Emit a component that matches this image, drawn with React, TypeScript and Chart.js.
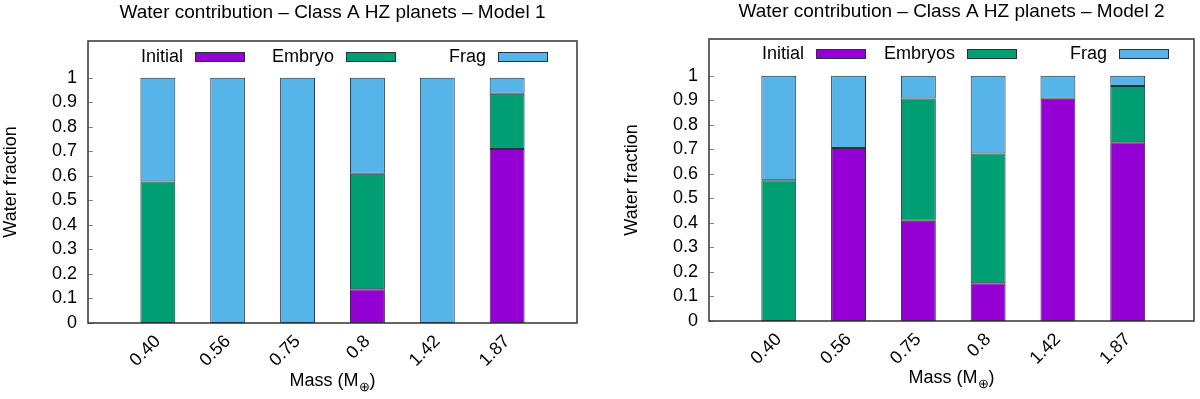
import React, { useEffect, useRef } from "react";
import { Chart, registerables } from "chart.js";

Chart.register(...registerables);

// ---------- data ----------
const masses = ["0.40", "0.56", "0.75", "0.8", "1.42", "1.87"];

const model1Initial = [0, 0, 0, 0.138, 0, 0.71];
const model1Embryo = [0.577, 0, 0, 0.471, 0, 0.225];
const model1Frag = [0.423, 1, 1, 0.391, 1, 0.065];

const model2Initial = [0, 0.706, 0.409, 0.154, 0.906, 0.729];
const model2Embryo = [0.574, 0, 0.498, 0.529, 0, 0.229];
const model2Frag = [0.426, 0.294, 0.093, 0.317, 0.094, 0.042];

const yTicks = [0, 0.1, 0.2, 0.3, 0.4, 0.5, 0.6, 0.7, 0.8, 0.9, 1];
const yTickLabels = ["0", "0.1", "0.2", "0.3", "0.4", "0.5", "0.6", "0.7", "0.8", "0.9", "1"];

const title1 = "Water contribution \u2013 Class A HZ planets \u2013 Model 1";
const title2 = "Water contribution \u2013 Class A HZ planets \u2013 Model 2";
const legend1 = ["Initial", "Embryo", "Frag"];
const legend2 = ["Initial", "Embryos", "Frag"];
const yTitle = "Water fraction";
const xTitle = "Mass (M";
const xTitleSub = "\u2295";

const COLOR_INITIAL = "#9400d3";
const COLOR_EMBRYO = "#009e73";
const COLOR_FRAG = "#56b4e9";
const BAR_BORDER = "#26323c";
const FONT = "'Liberation Sans', Arial, Helvetica, sans-serif";
const FS = 18;
const FS_TITLE = 19;

type PanelCfg = {
  title: string;
  legend: string[];
  initial: number[];
  embryo: number[];
  frag: number[];
  area: { left: number; top: number; right: number; bottom: number };
  xMax: number;
  titleY: number;
  xTitleY: number;
  legendY: number;
};

const W = 600;
const H = 399;
const LEGEND_OFFSETS = [107, 258, 410];

const toPoints = (arr: number[]) => arr.map((v, i) => ({ x: i, y: v === 0 ? null : v }));

function makeDecor(cfg: PanelCfg) {
  return {
    id: "decor",
    afterDraw(chart: any) {
      const ctx = chart.ctx as CanvasRenderingContext2D;
      const a = chart.chartArea;
      const yScale = chart.scales.y;
      ctx.save();
      // inward tick marks
      ctx.strokeStyle = "#888";
      ctx.lineWidth = 1;
      yTicks.forEach((v) => {
        const py = Math.round(yScale.getPixelForValue(v)) + 0.5;
        ctx.beginPath();
        ctx.moveTo(a.left, py);
        ctx.lineTo(a.left + 5, py);
        ctx.stroke();
      });
      // frame
      ctx.strokeStyle = "#333";
      ctx.lineWidth = 1.5;
      ctx.strokeRect(a.left, a.top, a.right - a.left, a.bottom - a.top);

      // title
      ctx.fillStyle = "#000";
      ctx.font = `${FS_TITLE}px ${FONT}`;
      ctx.textAlign = "center";
      ctx.textBaseline = "middle";
      ctx.fillText(cfg.title, (a.left + a.right) / 2, cfg.titleY);

      // y title
      ctx.font = `${FS}px ${FONT}`;
      ctx.save();
      ctx.translate(a.left - 76.5, (a.top + a.bottom) / 2);
      ctx.rotate(-Math.PI / 2);
      ctx.fillText(yTitle, 0, 0);
      ctx.restore();

      // x title with subscript
      const subFs = Math.round(FS * 0.72);
      ctx.font = `${FS}px ${FONT}`;
      const wMain = ctx.measureText(xTitle).width;
      const wClose = ctx.measureText(")").width;
      ctx.font = `${subFs}px ${FONT}`;
      const wSub = ctx.measureText(xTitleSub).width;
      const total = wMain + wSub + wClose;
      const x0 = (a.left + a.right) / 2 - total / 2;
      ctx.textAlign = "left";
      ctx.font = `${FS}px ${FONT}`;
      ctx.fillText(xTitle, x0, cfg.xTitleY);
      ctx.font = `${subFs}px ${FONT}`;
      ctx.fillText(xTitleSub, x0 + wMain, cfg.xTitleY + 6);
      ctx.font = `${FS}px ${FONT}`;
      ctx.fillText(")", x0 + wMain + wSub, cfg.xTitleY);

      // legend
      const colors = [COLOR_INITIAL, COLOR_EMBRYO, COLOR_FRAG];
      const boxW = 50;
      const boxH = 10;
      const ly = cfg.legendY;
      for (let i = 0; i < 3; i++) {
        const boxLeft = a.left + LEGEND_OFFSETS[i];
        ctx.fillStyle = colors[i];
        ctx.fillRect(boxLeft, ly - boxH / 2, boxW, boxH);
        ctx.strokeStyle = BAR_BORDER;
        ctx.lineWidth = 1;
        ctx.strokeRect(boxLeft + 0.5, ly - boxH / 2 + 0.5, boxW - 1, boxH - 1);
        ctx.fillStyle = "#000";
        ctx.textAlign = "right";
        ctx.font = `${FS}px ${FONT}`;
        ctx.fillText(cfg.legend[i], boxLeft - 12, ly);
      }
      ctx.restore();
    },
  };
}

function Panel({ cfg, left }: { cfg: PanelCfg; left: number }) {
  const ref = useRef<HTMLCanvasElement | null>(null);
  useEffect(() => {
    if (!ref.current) return;
    const a = cfg.area;
    const ds = (label: string, data: number[], color: string) => ({
      label,
      data: toPoints(data),
      backgroundColor: color,
      borderColor: BAR_BORDER,
      borderWidth: 1,
      borderSkipped: false,
      categoryPercentage: 1,
      barPercentage: 0.5,
    });
    const chart = new Chart(ref.current, {
      type: "bar",
      data: {
        datasets: [
          ds(cfg.legend[0], cfg.initial, COLOR_INITIAL),
          ds(cfg.legend[1], cfg.embryo, COLOR_EMBRYO),
          ds(cfg.legend[2], cfg.frag, COLOR_FRAG),
        ] as any,
      },
      options: {
        responsive: false,
        animation: false,
        layout: { padding: { top: a.top, right: W - a.right, left: 0, bottom: 0 } },
        plugins: { legend: { display: false }, tooltip: { enabled: false }, title: { display: false } },
        scales: {
          x: {
            type: "linear",
            stacked: true,
            offset: false,
            min: -1,
            max: cfg.xMax,
            grid: { display: false, drawTicks: false },
            border: { display: false },
            afterBuildTicks: (s: any) => {
              s.ticks = masses.map((_m, i) => ({ value: i }));
            },
            ticks: {
              autoSkip: false,
              maxRotation: 45,
              minRotation: 45,
              padding: 8,
              color: "#000",
              font: { family: FONT, size: FS },
              callback: (_v: any, i: number) => masses[i],
            },
            afterFit: (s: any) => {
              s.height = H - a.bottom;
            },
          },
          y: {
            type: "linear",
            stacked: true,
            min: 0,
            max: 1.15,
            grid: { display: false, drawTicks: false },
            border: { display: false },
            afterBuildTicks: (s: any) => {
              s.ticks = yTicks.map((v) => ({ value: v }));
            },
            ticks: {
              padding: 11,
              color: "#000",
              font: { family: FONT, size: FS },
              callback: (_v: any, i: number) => yTickLabels[i],
            },
            afterFit: (s: any) => {
              s.width = a.left;
            },
          },
        },
      } as any,
      plugins: [makeDecor(cfg)],
    });
    return () => chart.destroy();
  }, [cfg]);
  return (
    <canvas
      ref={ref}
      width={W}
      height={H}
      style={{ position: "absolute", left, top: 0, width: W, height: H }}
    />
  );
}

const panel1: PanelCfg = {
  title: title1,
  legend: legend1,
  initial: model1Initial,
  embryo: model1Embryo,
  frag: model1Frag,
  area: { left: 88, top: 41, right: 577, bottom: 323 },
  xMax: 6,
  titleY: 13,
  xTitleY: 381,
  legendY: 57,
};

const panel2: PanelCfg = {
  title: title2,
  legend: legend2,
  initial: model2Initial,
  embryo: model2Embryo,
  frag: model2Frag,
  area: { left: 109, top: 39, right: 594, bottom: 321 },
  xMax: 5.95,
  titleY: 12,
  xTitleY: 378.5,
  legendY: 54,
};

export default function App() {
  return (
    <div style={{ position: "fixed", left: 0, top: 0, width: 1200, height: 399, background: "#fff", overflow: "hidden" }}>
      <Panel cfg={panel1} left={0} />
      <Panel cfg={panel2} left={600} />
    </div>
  );
}
